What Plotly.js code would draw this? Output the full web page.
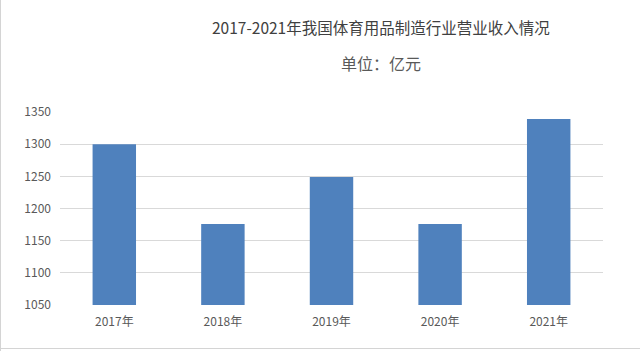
<!DOCTYPE html>
<html>
<head>
<meta charset="utf-8">
<script src="https://cdn.plot.ly/plotly-3.0.1.min.js"></script>
<style>
  html, body { margin: 0; padding: 0; background: #fff; }
  #wrap { position: relative; width: 640px; height: 351px; overflow: hidden; }
  #chart { width: 640px; height: 351px; }
  .frameL { position: absolute; left: 0; top: 0; width: 1px; height: 351px; background: #d4d4d4; }
  .frameB { position: absolute; left: 0; top: 348px; width: 640px; height: 1px; background: #d4d4d4; }
</style>
</head>
<body>
<div id="wrap">
  <div id="chart"></div>
  <div class="frameL"></div>
  <div class="frameB"></div>
</div>
<script>
const categories = ["2017年", "2018年", "2019年", "2020年", "2021年"];
const revenue = [1300, 1176, 1249, 1176, 1339];
const yTicks = [1050, 1100, 1150, 1200, 1250, 1300, 1350];
const titleText = "2017-2021年我国体育用品制造行业营业收入情况";
const subtitleText = "单位：亿元";

const font = '"Noto Sans CJK SC", "Noto Sans", sans-serif';

Plotly.newPlot('chart', [{
  type: 'bar',
  x: categories,
  y: revenue,
  marker: { color: '#4f81bd' },
  hoverinfo: 'x+y'
}], {
  width: 640,
  height: 351,
  margin: { l: 60, r: 37, t: 112, b: 46 },
  paper_bgcolor: '#ffffff',
  plot_bgcolor: '#ffffff',
  bargap: 0.6,
  showlegend: false,
  font: { family: font, color: '#595959', size: 12 },
  xaxis: {
    type: 'category',
    showgrid: false,
    showline: false,
    zeroline: false,
    ticks: '',
    tickfont: { family: font, size: 12, color: '#595959' },
    ticklabelstandoff: 8
  },
  yaxis: {
    range: [1050, 1350],
    tickvals: yTicks,
    ticktext: yTicks.map(String),
    showgrid: true,
    gridcolor: '#d9d9d9',
    gridwidth: 1,
    zeroline: false,
    showline: false,
    ticks: '',
    tickfont: { family: font, size: 12, color: '#595959' },
    ticklabelstandoff: 8
  },
  annotations: [
    {
      text: titleText, xref: 'paper', yref: 'paper',
      x: (381 - 60) / 543, y: 1 + (112 - 27) / 193,
      xanchor: 'center', yanchor: 'middle', showarrow: false,
      font: { family: font, size: 15.5, color: '#404040' }
    },
    {
      text: subtitleText, xref: 'paper', yref: 'paper',
      x: (381 - 60) / 543, y: 1 + (112 - 63) / 193,
      xanchor: 'center', yanchor: 'middle', showarrow: false,
      font: { family: font, size: 16, color: '#595959' }
    }
  ]
}, { displayModeBar: false, staticPlot: true });
</script>
</body>
</html>
